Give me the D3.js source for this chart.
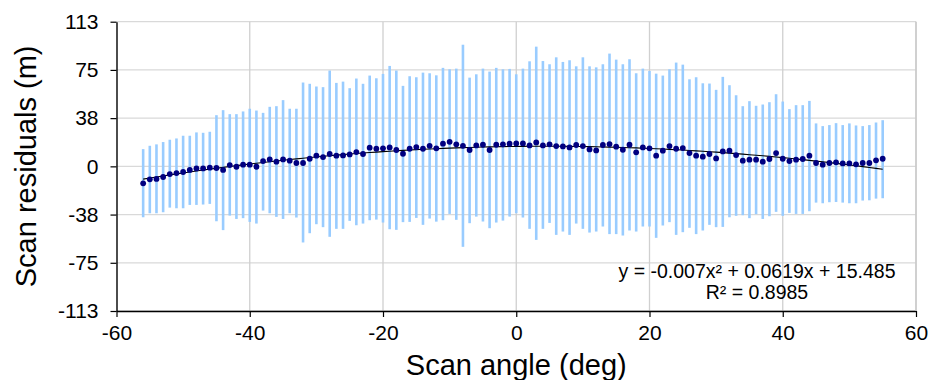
<!DOCTYPE html>
<html>
<head>
<meta charset="utf-8">
<script src="https://cdn.jsdelivr.net/npm/d3@7"></script>
<style>
  body { margin: 0; background: #fff; }
  svg { display: block; font-family: Arial, "Liberation Sans", sans-serif; }
</style>
</head>
<body>
<svg id="chart" width="932" height="380"></svg>
<script>
// scan angle (deg)
const angles = [-56, -55, -54, -53, -52, -51, -50, -49, -48, -47, -46, -45, -44, -43, -42, -41, -40, -39, -38, -37,
  -36, -35, -34, -33, -32, -31, -30, -29, -28, -27, -26, -25, -24, -23, -22, -21, -20, -19, -18, -17,
  -16, -15, -14, -13, -12, -11, -10, -9, -8, -7, -6, -5, -4, -3, -2, -1, 0, 1, 2, 3,
  4, 5, 6, 7, 8, 9, 10, 11, 12, 13, 14, 15, 16, 17, 18, 19, 20, 21, 22, 23,
  24, 25, 26, 27, 28, 29, 30, 31, 32, 33, 34, 35, 36, 37, 38, 39, 40, 41, 42, 43,
  44, 45, 46, 47, 48, 49, 50, 51, 52, 53, 54, 55];

// mean residual (m)
const residuals = [-13.2, -10.1, -9.8, -8.3, -6.0, -5.2, -4.4, -2.8, -1.6, -1.6, -1.0, -1.3, -2.8, 1.0, -0.3, 1.3, 1.3, -0.3, 4.1, 5.4,
  3.6, 5.4, 4.4, 2.6, 2.6, 5.9, 8.3, 7.2, 9.6, 8.3, 8.5, 9.3, 11.1, 9.6, 14.5, 13.7, 14.0, 14.7, 12.7, 9.8,
  13.7, 15.0, 13.7, 16.0, 14.0, 17.6, 19.1, 17.1, 16.0, 12.7, 16.3, 16.8, 12.7, 16.8, 17.1, 17.6, 17.8, 17.8, 16.3, 18.6,
  16.3, 17.1, 15.8, 15.5, 14.7, 16.6, 15.8, 13.2, 12.4, 16.6, 17.3, 15.3, 12.9, 16.8, 10.9, 14.7, 14.0, 8.3, 12.2, 15.8,
  13.7, 14.2, 10.3, 8.3, 7.5, 9.6, 6.2, 11.6, 12.2, 8.8, 4.4, 5.2, 5.2, 3.6, 5.7, 10.3, 5.9, 4.1, 5.2, 5.7,
  8.3, 2.6, 1.3, 2.6, 3.1, 2.3, 2.3, 1.6, 2.6, 2.6, 4.7, 5.9];

// upper end of the error bar (m)
const errHigh = [13.4, 16.0, 17.1, 18.9, 20.7, 21.7, 23.8, 23.8, 26.4, 26.1, 26.9, 39.8, 43.7, 40.6, 40.6, 42.7, 44.8, 43.4, 41.6, 46.3,
  46.8, 51.5, 44.8, 44.8, 65.2, 64.2, 62.1, 61.6, 74.5, 64.9, 65.9, 60.8, 68.3, 64.2, 70.6, 68.5, 71.9, 78.1, 74.5, 62.6,
  70.1, 69.3, 72.9, 72.4, 70.8, 76.6, 75.5, 76.0, 94.6, 69.0, 71.6, 76.0, 73.7, 76.6, 75.5, 75.8, 71.6, 76.0, 81.7, 93.1,
  81.9, 79.4, 84.8, 81.2, 82.5, 77.8, 84.8, 77.8, 77.0, 79.4, 87.7, 83.0, 79.4, 83.3, 72.4, 76.0, 74.2, 72.1, 70.6, 75.5,
  80.7, 79.1, 67.7, 69.3, 64.6, 64.4, 59.5, 69.6, 63.1, 55.3, 46.8, 50.7, 47.1, 48.1, 49.9, 56.1, 50.4, 44.5, 47.6, 47.6,
  50.9, 33.4, 31.3, 32.1, 33.6, 32.1, 33.4, 31.8, 31.3, 32.1, 34.1, 35.9];

// lower end of the error bar (m)
const errLow = [-39.6, -36.5, -36.5, -35.7, -32.1, -32.6, -32.6, -30.0, -30.0, -29.7, -29.2, -42.7, -49.6, -38.3, -40.9, -40.3, -43.2, -44.5, -34.4, -36.5,
  -39.3, -40.9, -36.5, -39.8, -59.2, -52.0, -45.0, -47.3, -54.8, -48.6, -48.6, -42.4, -45.8, -44.5, -41.9, -41.4, -43.7, -48.9, -49.4, -43.4,
  -43.2, -40.1, -45.5, -40.6, -43.0, -41.9, -37.0, -41.6, -62.6, -44.2, -39.1, -42.9, -48.1, -43.7, -42.2, -39.1, -36.5, -39.8, -48.6, -57.2,
  -48.6, -44.0, -53.3, -50.7, -53.3, -44.5, -48.6, -51.5, -50.7, -46.8, -52.7, -52.7, -53.8, -49.9, -50.7, -46.8, -46.8, -55.6, -46.0, -43.4,
  -53.3, -51.2, -47.8, -52.7, -49.9, -45.5, -47.3, -47.1, -39.6, -38.5, -38.0, -40.3, -37.2, -40.9, -38.8, -35.4, -38.5, -36.2, -37.0, -37.0,
  -34.9, -28.2, -28.7, -27.9, -27.7, -28.2, -28.7, -28.7, -26.6, -26.4, -25.1, -24.8];

// polynomial trendline, as printed on the chart (a*x^2 + b*x + c)
const trendCoef = [-0.007, 0.0619, 15.485];
const trendLabels = ["y = -0.007x\u00B2 + 0.0619x + 15.485", "R\u00B2 = 0.8985"];

const xTicks = [-60, -40, -20, 0, 20, 40, 60];
const xTickLabels = ["-60", "-40", "-20", "0", "20", "40", "60"];
const yTicks = [-112.5, -75, -37.5, 0, 37.5, 75, 112.5];
const yTickLabels = ["-113", "-75", "-38", "0", "38", "75", "113"];

const width = 932, height = 380;
const margin = { top: 21.7, right: 16, bottom: 69, left: 116.5 };

const svg = d3.select('#chart');

const x = d3.scaleLinear().domain([-60, 60]).range([margin.left, width - margin.right]);
const y = d3.scaleLinear().domain([-112.5, 112.5]).range([height - margin.bottom, margin.top]);

const data = angles.map((a, i) => ({ a: a, r: residuals[i], hi: errHigh[i], lo: errLow[i] }));

// grid
svg.append('g')
  .selectAll('line.h')
  .data(yTicks)
  .enter().append('line')
  .attr('x1', margin.left).attr('x2', width - margin.right)
  .attr('y1', d => y(d)).attr('y2', d => y(d))
  .attr('stroke', '#d9d9d9').attr('stroke-width', 1.3);

svg.append('g')
  .selectAll('line.v')
  .data(xTicks.slice(1))
  .enter().append('line')
  .attr('x1', d => x(d)).attr('x2', d => x(d))
  .attr('y1', margin.top).attr('y2', height - margin.bottom)
  .attr('stroke', '#d0d0d0').attr('stroke-width', 1.3);

// error bars
svg.append('g')
  .selectAll('line')
  .data(data)
  .enter().append('line')
  .attr('x1', d => x(d.a)).attr('x2', d => x(d.a))
  .attr('y1', d => y(d.hi)).attr('y2', d => y(d.lo))
  .attr('stroke', '#99ccff').attr('stroke-width', 2.6);

// trendline
const trend = d3.line()
  .x(d => x(d))
  .y(d => y(trendCoef[0] * d * d + trendCoef[1] * d + trendCoef[2]));

svg.append('path')
  .datum(angles)
  .attr('d', trend)
  .attr('fill', 'none')
  .attr('stroke', '#000')
  .attr('stroke-width', 1.1);

// points
svg.append('g')
  .selectAll('circle')
  .data(data)
  .enter().append('circle')
  .attr('cx', d => x(d.a))
  .attr('cy', d => y(d.r))
  .attr('r', 2.9)
  .attr('fill', '#000080');

// axes
const xAxis = svg.append('g')
  .attr('transform', `translate(0,${height - margin.bottom})`)
  .call(d3.axisBottom(x).tickValues(xTicks).tickSize(6).tickSizeOuter(0).tickPadding(8)
    .tickFormat((d, i) => xTickLabels[i]));

const yAxis = svg.append('g')
  .attr('transform', `translate(${margin.left},0)`)
  .call(d3.axisLeft(y).tickValues(yTicks).tickSize(6).tickSizeOuter(0).tickPadding(12)
    .tickFormat((d, i) => yTickLabels[i]));

[xAxis, yAxis].forEach(g => {
  g.select('.domain').attr('stroke', '#000').attr('stroke-width', 1.4);
  g.selectAll('.tick line').attr('stroke', '#000').attr('stroke-width', 1.2);
  g.selectAll('.tick text')
    .attr('fill', '#000')
    .style('font-size', '21px')
    .style('font-family', 'Arial, "Liberation Sans", sans-serif');
});

// plot frame on the right
svg.append('line')
  .attr('x1', x(60)).attr('x2', x(60))
  .attr('y1', margin.top).attr('y2', height - margin.bottom)
  .attr('stroke', '#c8c8c8').attr('stroke-width', 1.3);

// axis titles
svg.append('text')
  .attr('x', x(0))
  .attr('y', 375)
  .attr('text-anchor', 'middle')
  .style('font-size', '29px')
  .text('Scan angle (deg)');

svg.append('text')
  .attr('transform', `translate(36,${y(0)}) rotate(-90)`)
  .attr('text-anchor', 'middle')
  .style('font-size', '29px')
  .text('Scan residuals (m)');

// trendline label
svg.append('g')
  .selectAll('text')
  .data(trendLabels)
  .enter().append('text')
  .attr('x', 757)
  .attr('y', (d, i) => 278 + i * 21)
  .attr('text-anchor', 'middle')
  .style('font-size', '19.5px')
  .text(d => d);
</script>
</body>
</html>
